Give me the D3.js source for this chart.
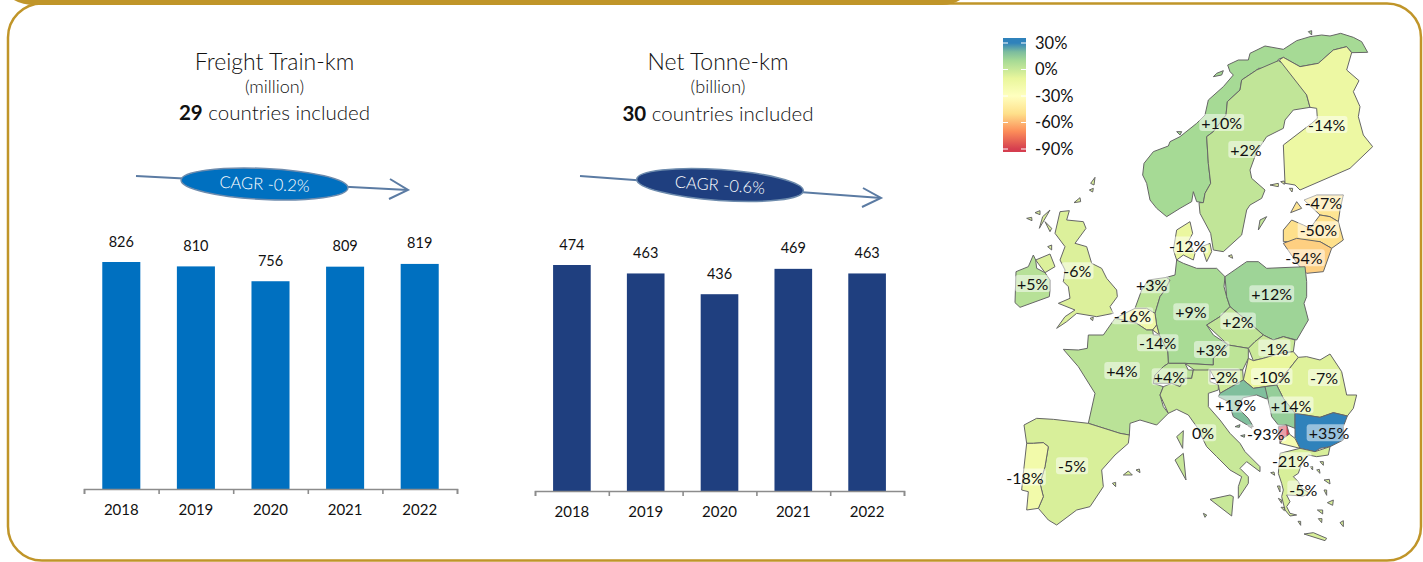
<!DOCTYPE html>
<html>
<head>
<meta charset="utf-8">
<script src="https://cdn.jsdelivr.net/npm/d3@7"></script>
<style>
  html, body { margin: 0; padding: 0; background: #fff; overflow: hidden; }
  svg { display: block; }
  text { font-family: "Lato", "Open Sans", sans-serif; fill: #111; }
  .thin { font-weight: 300; }
</style>
</head>
<body>
<script>
// bar charts
var years = ["2018", "2019", "2020", "2021", "2022"];
var trainKm = [826, 810, 756, 809, 819];
var tonneKm = [474, 463, 436, 469, 463];

// map: one change per country, same order as the outlines further down
var countries = ["Norway", "Sweden", "Finland", "Estonia", "Latvia", "Lithuania", "Denmark", "United Kingdom",
  "Ireland", "Netherlands", "Germany", "Poland", "Czechia", "Belgium", "Luxembourg", "Austria", "Slovakia",
  "France", "Switzerland", "Slovenia", "Hungary", "Romania", "Croatia", "Serbia", "Montenegro", "Bulgaria",
  "Italy", "North Macedonia", "Spain", "Portugal", "Greece"];
var changes = [10, 2, -14, -47, -50, -54, -12, -6, 5, 3, 9, 12, 2, -16, -14, 3, -1, 4, 4, -2, -10, -7, 19, 14, -93, 35, 0, -21, -5, -18, -5];

var legendTicks = [30, 0, -30, -60, -90];
var spectralStops = [-90, -70, -50, -30, -10, 10, 20, 30];
var spectralColors = ["#d53e4f", "#fc8d59", "#fee08b", "#ffffbf", "#e9f69c", "#a6da95", "#7cbc9e", "#2f82bb"];

// outlines, map units, two sheets
function top_(flat) { return d3.range(0, flat.length, 2).map(function(i) { return [flat[i], flat[i + 1]]; }); }
function low_(flat) { return d3.range(0, flat.length, 2).map(function(i) { return [flat[i], flat[i + 1] + 780]; }); }

var outlines = {
  Norway: [top_([1103,97,1085,65,1060,52,1022,40,990,48,965,45,930,50,890,62,850,88,795,78,750,100,745,120,715,120,683,135,690,155,700,165,670,200,625,240,615,285,590,310,540,350,510,365,505,378,460,395,432,430,428,465,440,490,450,540,470,565,500,590,540,565,575,545,580,515,590,545,610,548,615,520,632,490,625,430,620,350,640,335,678,285,682,245,720,210,725,180,770,150,775,145,825,145,835,118,850,112,900,140,955,130,1000,90,1040,80,1055,98,1060,115]),
    top_([640,170,650,160,670,152,665,165,645,175]), top_([530,335,545,335,540,345,530,343]), top_([925,35,935,32,935,45,925,45])],
  Sweden: [top_([835,122,910,165,920,225,930,262,880,270,855,300,850,325,800,350,770,395,750,450,755,475,795,510,785,535,750,555,740,570,725,645,670,695,640,690,632,640,600,580,597,548,610,548,615,520,632,490,625,430,620,350,640,335,678,285,682,245,720,210,725,180,770,150,825,145]),
    top_([775,630,780,600,800,590,790,620])],
  Finland: [top_([838,120,850,112,900,140,955,130,1000,90,1040,80,1055,98,1040,150,1077,182,1060,215,1080,260,1075,290,1090,345,1118,380,1050,445,900,510,885,495,855,490,850,375,935,310,952,295,950,265,930,262,920,225,910,165]),
    top_([810,495,835,490,835,500,820,503]), top_([842,485,853,483,853,493,843,493]), top_([868,505,878,505,876,516,868,515])],
  Estonia: [top_([912,540,950,525,1030,525,1020,570,1015,605,990,590,960,585,915,570]), top_([872,578,890,545,905,565,895,580])],
  Latvia: [top_([850,665,850,630,875,600,910,615,930,625,960,585,990,590,1015,605,1030,660,995,685,960,665,890,655])],
  Lithuania: [top_([850,670,890,655,960,665,995,685,970,755,920,760,895,735,860,700])],
  Denmark: [top_([530,630,570,605,578,640,565,665,585,700,580,720,550,705,530,720,520,690,518,650]), top_([605,680,630,670,635,695,620,725,600,725]), top_([685,708,695,704,698,715,688,715])],
  "United Kingdom": [low_([180,-205,208,-208,200,-180,250,-175,258,-155,225,-110,260,-100,275,-50,305,-35,320,-5,350,30,352,50,330,80,340,100,290,110,230,100,200,125,170,145,195,110,225,90,175,70,210,55,205,20,190,5,195,-30,180,-60,195,-100,165,-140,160,-180]),
    low_([107,-60,150,-78,165,-40,135,-22,110,-35]), low_([80,-185,95,-188,96,-178,86,-176]), low_([105,-202,120,-208,120,-196,108,-194]), low_([118,-155,128,-190,150,-210,145,-180]), low_([135,-175,155,-155,150,-145,138,-155]), low_([222,-232,240,-247,242,-235,230,-227]), low_([272,-290,285,-308,282,-285,274,-283]), low_([268,-270,280,-275,278,-264,270,-264]), low_([143,-100,155,-105,155,-90,146,-92]), low_([270,115,280,112,278,122,270,122])],
  Ireland: [low_([48,-25,85,-40,100,-75,107,-60,110,-35,135,-22,150,0,150,30,148,50,60,82,45,68,50,40])],
  Netherlands: [low_([405,85,425,30,445,0,500,-8,510,0,495,30,480,50,465,100,440,85])],
  Germany: [low_([530,-60,550,-50,590,-35,650,-35,675,-10,672,20,680,50,690,80,660,110,620,135,640,165,685,195,640,235,640,255,555,250,505,250,503,215,478,165,470,135,465,100,480,50,495,30,510,0,500,-8,525,-15,535,-30])],
  Poland: [low_([675,-10,740,-55,775,-55,800,-35,915,-40,920,5,920,50,912,70,925,120,890,180,850,170,820,180,790,165,750,130,690,80,680,50,672,20])],
  Czechia: [low_([620,135,660,110,690,80,750,130,790,165,765,185,745,205,685,195,640,165])],
  Belgium: [low_([345,115,405,85,440,85,465,100,470,135,458,150,440,150,410,130,360,118])],
  Luxembourg: [low_([458,150,470,135,478,165,460,165])],
  Austria: [low_([555,250,640,255,640,235,685,195,745,205,745,235,728,270,630,270,590,275,565,270])],
  Slovakia: [low_([745,205,765,185,790,165,820,180,850,170,885,180,880,215,840,220,790,235,760,242,745,235])],
  France: [low_([190,208,235,210,262,205,265,165,310,165,345,115,360,118,410,130,440,150,458,150,460,165,478,165,503,215,505,250,490,260,465,285,460,310,490,320,480,345,490,380,505,400,470,435,420,420,390,430,388,465,360,460,265,430,285,340,235,260,195,230])],
  Switzerland: [low_([460,310,465,285,490,260,505,250,555,250,565,270,580,270,575,295,555,295,540,320,515,310,490,320])],
  Slovenia: [low_([630,270,728,270,730,300,695,320,660,340,655,315,630,305])],
  Hungary: [low_([745,235,760,242,790,235,840,220,880,215,895,232,865,270,830,315,795,320,760,325,730,300,728,270])],
  Romania: [low_([895,232,920,230,960,240,990,222,1025,275,1040,345,1070,345,1060,385,1042,408,1000,398,960,412,885,400,850,355,830,315,865,270])],
  Croatia: [low_([655,350,660,340,695,320,730,300,760,325,795,320,805,345,800,357,770,345,730,353,715,375,720,390,745,415,760,440,750,440,725,425,700,410,695,395,685,365,655,355])],
  Serbia: [low_([795,320,830,315,850,355,885,400,885,445,860,435,835,435,815,410,810,385,805,345])],
  Montenegro: [low_([835,440,860,435,868,462,850,475,840,490,835,470])],
  Bulgaria: [low_([885,400,960,412,1000,398,1042,408,1030,440,1030,480,990,500,960,505,945,515,900,505,885,475,885,445])],
  Italy: [low_([480,345,490,320,515,310,540,320,555,295,575,295,580,270,630,270,630,305,655,315,655,330,625,340,625,380,660,420,690,460,720,490,735,515,780,560,780,575,740,545,720,565,745,590,745,610,715,655,715,620,725,590,690,570,650,530,620,500,590,440,565,405,530,388,505,400,490,380]),
    low_([630,658,690,645,700,650,695,708,665,695]), low_([525,540,550,520,558,600,525,612]), low_([530,470,550,452,548,505,535,505]), low_([610,700,620,705,615,712,610,708])],
  "North Macedonia": [low_([840,490,850,475,868,462,885,475,900,505,840,520])],
  Spain: [low_([72,435,110,415,160,418,265,430,360,460,388,465,385,490,345,525,305,570,310,620,270,680,230,690,170,735,145,720,115,685,130,650,120,610,135,560,145,500,130,488,100,490,80,490,75,460]),
    low_([370,585,385,573,397,585,385,600]), low_([408,570,418,567,420,578,412,578]), low_([337,610,347,607,347,620,338,618])],
  Portugal: [low_([80,490,100,490,130,488,145,500,135,560,120,610,130,650,115,685,80,690,85,635,65,630,70,580,80,530])],
  Greece: [low_([840,520,900,505,945,515,990,500,985,525,950,530,925,525,905,550,895,580,880,590,895,605,905,625,930,640,910,648,860,645,870,665,860,680,870,700,890,705,870,708,855,690,845,650,850,630,845,610,835,580,830,550]),
    low_([912,762,940,758,980,775,975,782,925,775]), low_([960,545,970,545,970,556,962,556]), low_([950,570,958,568,960,580,950,580]), low_([930,560,938,560,938,570,930,568]), low_([972,600,988,598,990,612,978,610]), low_([972,630,980,630,980,646,974,646]), low_([982,668,1000,660,998,676,985,678]), low_([952,690,968,690,968,702,955,700]), low_([955,716,966,716,965,728,957,726]), low_([1020,728,1030,722,1030,740,1020,742]), low_([894,724,902,724,902,736,895,736]), low_([843,682,853,682,853,692,845,692]), low_([835,655,845,660,845,670,836,668]), low_([832,618,840,618,840,636,834,636]), low_([812,578,822,576,824,586,815,588])],
  Dalmatia: [low_([705,440,720,434,718,442,708,446]), low_([722,467,735,464,733,472,724,472]), low_([745,438,755,438,755,445,746,445])]
};

// where each percentage label sits, same sheet units
var labelSpots = [
  [665,310], [738,391], [980,316], [970,551], [955,632], [912,716], [563,678], [232,755], [98,793], [455,797],
  [573,878], [815,824], [714,906], [397,890], [473,971], [635,991], [823,987], [366,1054], [508,1073], [672,1072],
  [815,1072], [972,1075], [707,1155], [873,1158], [797,1242], [987,1241], [609,1241], [872,1325], [216,1340], [75,1374], [910,1410]
];

var w = 1423, h = 562;
var svg = d3.select("body").append("svg").attr("width", w).attr("height", h);

// gold frame
var gold = "#c09529";
svg.append("rect").attr("x", 8).attr("y", 3.5).attr("width", 1413).attr("height", 557).attr("rx", 34)
  .attr("fill", "none").attr("stroke", gold).attr("stroke-width", 2.5);
svg.append("path").attr("d", "M14,0 Q22,5 36,5 L942,5 Q952,5 960,0 Z").attr("fill", gold);

function percent(v) {
  return (v > 0 ? "+" : "") + v + "%";
}

function barChart(o) {
  var g = svg.append("g");
  var x = d3.scaleBand().domain(years).range([o.left, o.right]).paddingInner(0.49).paddingOuter(0.245);
  var y = d3.scaleLinear().domain([o.floor, d3.max(o.values)]).range([o.base, o.top]);

  g.selectAll("rect").data(o.values).enter().append("rect")
    .attr("x", function(d, i) { return x(years[i]); })
    .attr("y", function(d) { return y(d); })
    .attr("width", x.bandwidth())
    .attr("height", function(d) { return o.base - y(d); })
    .attr("fill", o.color);

  g.selectAll(".val").data(o.values).enter().append("text").attr("class", "val")
    .attr("x", function(d, i) { return x(years[i]) + x.bandwidth() / 2; })
    .attr("y", function(d) { return y(d) - 15.5; })
    .attr("text-anchor", "middle").attr("font-size", 14.5)
    .text(function(d) { return d; });

  // ticks fall between the bars, so a second scale for the axis line
  var edges = d3.scaleLinear().domain([0, years.length]).range([o.left, o.right]);
  var axisG = g.append("g").attr("transform", "translate(0," + o.base + ")")
    .call(d3.axisBottom(edges).tickValues(d3.range(years.length + 1)).tickFormat("").tickSize(5).tickSizeOuter(5));
  axisG.selectAll("path,line").attr("stroke", "#8c8c8c").attr("stroke-width", 1.6);

  var labelG = g.append("g").attr("transform", "translate(0," + o.base + ")")
    .call(d3.axisBottom(x).tickSize(0).tickPadding(15));
  labelG.select(".domain").remove();
  labelG.selectAll("text").attr("font-size", 15).style("font-family", "Lato").attr("fill", "#111");

  // headings
  var cx = (o.left + o.right) / 2 + o.titleShift;
  g.append("text").attr("class", "thin").attr("x", cx).attr("y", 70).attr("text-anchor", "middle").attr("font-size", 23).text(o.title);
  g.append("text").attr("class", "thin").attr("x", cx).attr("y", 93).attr("text-anchor", "middle").attr("font-size", 18).text(o.unit);
  var sub = g.append("text").attr("class", "thin").attr("x", cx).attr("y", o.subY).attr("text-anchor", "middle").attr("font-size", 20.5);
  sub.append("tspan").attr("font-weight", "bold").text(o.count);
  sub.append("tspan").text(" countries included");

  // CAGR arrow
  var arrow = "#5b7ba3";
  g.append("path").attr("d", "M" + o.arrow[0] + "," + o.arrow[1] + "L" + o.arrow[2] + "," + o.arrow[3])
    .attr("stroke", arrow).attr("stroke-width", 2).attr("fill", "none");
  g.append("path").attr("d", "M" + o.head[0] + "," + o.head[1] + "L" + o.arrow[2] + "," + o.arrow[3] + "L" + o.head[2] + "," + o.head[3])
    .attr("stroke", arrow).attr("stroke-width", 2).attr("fill", "none");
  var pill = g.append("g").attr("transform", "translate(" + o.pill[0] + "," + o.pill[1] + ") rotate(" + o.pill[2] + ")");
  pill.append("ellipse").attr("rx", 83.5).attr("ry", 15.5).attr("fill", o.color).attr("stroke", "#6d8bad").attr("stroke-width", 1.5);
  pill.append("text").attr("class", "thin").attr("text-anchor", "middle").attr("dy", "0.35em").attr("font-size", 16.5)
    .style("fill", "#fff").text(o.cagr);
}

barChart({ values: trainKm, left: 84, right: 457, base: 489, top: 262, floor: 0, color: "#0070c0",
  title: "Freight Train-km", unit: "(million)", count: "29", subY: 120, titleShift: 4,
  arrow: [136, 176, 408, 190], head: [390, 179, 389, 199], pill: [264.5, 184, 2.7], cagr: "CAGR -0.2%" });

barChart({ values: tonneKm, left: 535, right: 904, base: 491, top: 265, floor: 180, color: "#1f3f7f",
  title: "Net Tonne-km", unit: "(billion)", count: "30", subY: 121, titleShift: -1.5,
  arrow: [580, 176, 881, 198], head: [863, 188, 862, 207], pill: [720, 185, 4], cagr: "CAGR -0.6%" });

// map
var color = d3.scaleLinear().domain(spectralStops).range(spectralColors).clamp(true);
var projection = d3.geoIdentity().scale(1 / 3).translate([1000, 20]);
var geoPath = d3.geoPath(projection);

var features = countries.map(function(name, i) {
  return { type: "Feature", properties: { name: name, change: changes[i] },
    geometry: { type: "MultiPolygon", coordinates: outlines[name].map(function(r) { return [r]; }) } };
});
// small Adriatic islands are grey green in the picture, no label of their own
var islands = { type: "Feature", properties: { change: 12 },
  geometry: { type: "MultiPolygon", coordinates: outlines.Dalmatia.map(function(r) { return [r]; }) } };

svg.append("g").selectAll("path").data(features.concat([islands])).enter().append("path")
  .attr("d", geoPath)
  .attr("fill", function(d) { return color(d.properties.change); })
  .attr("stroke", "#666").attr("stroke-width", 1).attr("stroke-linejoin", "round");

var labels = svg.append("g").selectAll("g").data(features).enter().append("g")
  .attr("transform", function(d, i) { return "translate(" + projection(labelSpots[i]) + ")"; });
labels.append("text").attr("text-anchor", "middle").attr("dy", "0.35em").attr("font-size", 16)
  .text(function(d) { return percent(d.properties.change); });
labels.insert("rect", "text").each(function() {
  var b = this.parentNode.querySelector("text").getBBox();
  d3.select(this).attr("x", b.x - 2).attr("y", b.y + 1).attr("width", b.width + 4).attr("height", b.height - 2)
    .attr("rx", 3).attr("fill", "#fff").attr("fill-opacity", 0.5);
});

// legend
var legendY = d3.scaleLinear().domain([30, -90]).range([43, 149]);
var grad = svg.append("defs").append("linearGradient").attr("id", "legendFill")
  .attr("x1", 0).attr("x2", 0).attr("y1", 0).attr("y2", 1);
grad.selectAll("stop").data(spectralStops.slice().reverse()).enter().append("stop")
  .attr("offset", function(d) { return (legendY(d) - 38) / 114; })
  .attr("stop-color", function(d) { return color(d); });
svg.append("rect").attr("x", 1003).attr("y", 38).attr("width", 23).attr("height", 114).attr("fill", "url(#legendFill)");
var lt = svg.append("g").selectAll("g").data(legendTicks).enter().append("g")
  .attr("transform", function(d) { return "translate(0," + legendY(d) + ")"; });
lt.append("path").attr("d", "M1003,0h5M1021,0h5").attr("stroke", "#fff").attr("stroke-width", 1);
lt.append("text").attr("x", 1035).attr("dy", "0.35em").attr("font-size", 16.5)
  .text(function(d) { return d + "%"; });
</script>
</body>
</html>
